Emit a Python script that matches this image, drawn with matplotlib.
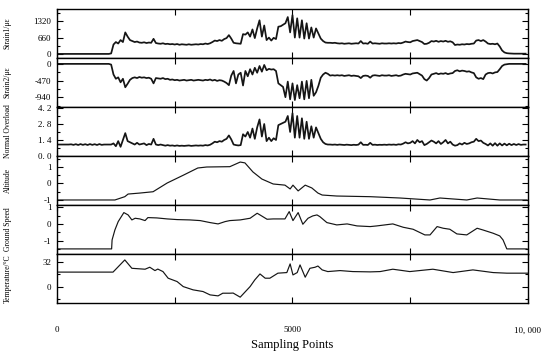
import numpy as np
import matplotlib.pyplot as plt
from matplotlib.ticker import MultipleLocator

plt.rcParams['font.family'] = ['Liberation Serif', 'DejaVu Serif']

# sampling index for the three load channels (every 50 points)
sample_idx = list(range(0, 10000, 50))

strain1 = [
    0, 0, 0, 0, 0, 0, 0, 0, 0, 0, 0, 0, 0, 0, 0, 0, 0, 0, 0, 0,
    0, 0, 0, 20, 380, 480, 420, 560, 480, 870, 700, 560, 520, 480, 500, 460, 450, 470, 440, 460,
    450, 610, 440, 420, 410, 430, 400, 410, 390, 400, 380, 400, 370, 390, 380, 370, 390, 370, 380, 390,
    380, 400, 390, 420, 400, 430, 480, 540, 520, 560, 530, 600, 640, 760, 620, 450, 430, 420, 410, 800,
    780, 870, 700, 990, 640, 1030, 1360, 700, 1150, 560, 660, 540, 650, 600, 1100, 1120, 1180, 1240, 1490, 870,
    1570, 660, 1440, 660, 1360, 620, 1240, 620, 1070, 660, 1030, 820, 620, 520, 460, 450, 450, 440, 450, 430,
    420, 430, 410, 420, 430, 410, 420, 430, 420, 520, 420, 430, 410, 500, 420, 430, 420, 410, 430, 420,
    420, 430, 420, 430, 420, 440, 430, 460, 500, 480, 470, 520, 540, 560, 520, 480, 400, 410, 450, 520,
    500, 530, 490, 520, 500, 530, 490, 510, 470, 360, 380, 370, 390, 380, 400, 390, 410, 420, 540, 560,
    520, 560, 500, 420, 400, 410, 390, 420, 300, 140, 60, 30, 20, 15, 10, 10, 10, 10, 10, 10,
]

strain2 = [
    0, 0, 0, 0, 0, 0, 0, 0, 0, 0, 0, 0, 0, 0, 0, 0, 0, 0, 0, 0,
    0, 0, 0, -20, -300, -420, -380, -520, -420, -660, -560, -450, -400, -380, -400, -370, -390, -380, -400, -390,
    -420, -550, -400, -410, -420, -400, -430, -420, -450, -440, -460, -450, -470, -460, -450, -470, -460, -450, -470, -460,
    -450, -460, -470, -450, -460, -440, -470, -450, -480, -460, -470, -500, -540, -600, -330, -200, -550, -300, -250, -610,
    -200, -350, -150, -300, -110, -250, -60, -220, -30, -180, -140, -160, -150, -200, -550, -600, -650, -940, -500, -1000,
    -550, -1020, -600, -970, -500, -1000, -480, -970, -450, -900, -800, -620, -390, -300, -250, -280, -330, -320, -330, -320,
    -330, -320, -340, -330, -320, -340, -330, -340, -350, -400, -340, -330, -340, -390, -330, -320, -330, -340, -320, -330,
    -330, -320, -340, -330, -320, -340, -330, -300, -280, -290, -300, -270, -260, -250, -290, -330, -430, -470, -400, -300,
    -280, -260, -290, -270, -280, -260, -290, -270, -260, -200, -180, -210, -190, -200, -220, -210, -240, -260, -380, -420,
    -400, -430, -300, -260, -250, -270, -240, -230, -150, -60, -20, -10, 0, 0, 0, 0, 0, 0, 0, 0,
]

overload = [
    1.0, 1.0, 1.0, 1.0, 1.0, 1.0, 1.02, 0.97, 1.03, 0.96, 1.04, 0.97, 1.03, 0.96, 1.04, 0.97, 1.03, 0.96, 1.04, 0.97,
    1.0, 1.0, 1.0, 1.0, 1.1, 0.85, 1.3, 0.8, 1.4, 2.0, 1.3, 1.2, 1.1, 1.0, 1.15, 1.0, 1.05, 1.1, 0.95, 1.05,
    1.0, 1.5, 1.0, 0.95, 1.0, 0.95, 0.9, 0.95, 0.9, 0.92, 0.88, 0.92, 0.88, 0.9, 0.88, 0.9, 0.92, 0.88, 0.9, 0.92,
    0.9, 0.92, 0.9, 0.95, 0.92, 0.98, 1.1, 1.25, 1.2, 1.3, 1.25, 1.4, 1.5, 1.8, 1.45, 1.0, 0.95, 0.92, 0.95, 1.9,
    1.7, 2.1, 1.6, 2.4, 1.5, 2.5, 3.2, 1.7, 2.8, 1.3, 1.6, 1.3, 1.55, 1.4, 2.7, 2.8, 2.9, 3.0, 3.5, 2.1,
    3.75, 1.6, 3.5, 1.6, 3.3, 1.5, 3.0, 1.5, 2.6, 1.6, 2.5, 2.0, 1.5, 1.2, 1.05, 1.0, 1.0, 0.98, 1.0, 0.97,
    1.0, 0.98, 0.96, 0.99, 0.97, 0.95, 0.98, 0.96, 0.99, 1.2, 0.97, 0.98, 0.96, 1.15, 0.97, 0.99, 0.96, 0.98, 0.97, 0.99,
    0.97, 1.0, 0.98, 1.0, 0.97, 1.02, 1.0, 1.08, 1.2, 1.1, 1.15, 1.3, 1.1, 1.4, 1.2, 1.3, 0.95, 1.05, 1.2, 1.35,
    1.25, 1.1, 1.3, 1.05, 1.2, 1.4, 1.1, 1.25, 1.0, 0.9, 0.95, 1.1, 1.0, 1.15, 1.05, 1.1, 1.2, 1.25, 1.5, 1.3,
    1.35, 1.15, 1.05, 0.92, 1.1, 0.9, 1.12, 0.9, 1.1, 0.92, 1.08, 0.93, 1.07, 0.95, 1.05, 0.96, 1.04, 0.97, 1.0, 1.0,
]

alt_x = [0, 1230, 1440, 1510, 1760, 1970, 2040, 2340, 2680, 2990, 3180, 3670, 3890, 3990, 4160,
         4350, 4590, 4840, 4950, 5010, 5120, 5270, 5410, 5540, 5630, 5940, 6650, 7280, 7920,
         8130, 8700, 8920, 9400, 9980]
altitude = [-1.0, -1.0, -0.8, -0.64, -0.58, -0.52, -0.5, 0.03, 0.5, 0.94, 1.0, 1.02, 1.3, 1.25, 0.7,
            0.27, -0.03, -0.1, -0.33, -0.1, -0.45, -0.1, -0.27, -0.58, -0.7, -0.76, -0.8, -0.88, -1.0,
            -0.88, -1.0, -0.88, -1.0, -1.0]

gs_x = [0, 1160, 1170, 1230, 1300, 1420, 1510, 1590, 1660, 1760, 1870, 1930, 2120, 2340, 2550,
        2820, 3040, 3250, 3420, 3570, 3670, 3890, 4100, 4250, 4310, 4460, 4590, 4840, 4930, 5010,
        5120, 5220, 5330, 5430, 5520, 5580, 5730, 5940, 6160, 6370, 6650, 6790, 7130, 7350, 7560,
        7810, 7920, 8070, 8200, 8340, 8490, 8700, 8920, 9040, 9260, 9400, 9470, 9550, 9980]
ground_speed = [-1.5, -1.5, -0.96, -0.36, 0.14, 0.68, 0.54, 0.24, 0.34, 0.3, 0.2, 0.38, 0.36, 0.3, 0.26,
                0.24, 0.2, 0.08, 0.0, 0.14, 0.2, 0.24, 0.34, 0.64, 0.54, 0.28, 0.3, 0.3, 0.74, 0.2,
                0.68, -0.02, 0.34, 0.48, 0.54, 0.44, 0.08, -0.06, 0.0, -0.12, -0.16, -0.12, 0.0, -0.2, -0.32,
                -0.66, -0.66, -0.16, -0.26, -0.32, -0.6, -0.66, -0.26, -0.36, -0.56, -0.72, -0.96, -1.5, -1.5]

temp_x = [0, 1190, 1440, 1590, 1870, 1970, 2080, 2140, 2250, 2360, 2550, 2680, 2890, 3100, 3250,
          3420, 3520, 3670, 3740, 3890, 4100, 4200, 4310, 4420, 4520, 4690, 4880, 4950, 5010, 5100,
          5160, 5270, 5370, 5480, 5540, 5630, 5750, 6010, 6280, 6650, 6860, 7130, 7490, 7980, 8410,
          8830, 9260, 9550, 10000]
temperature = [19, 19, 35, 24, 22.8, 25.4, 21, 23, 19.7, 11, 6.6, 0, -4.3, -6.5, -10.9,
               -12.2, -8.7, -8.7, -8.5, -13.9, 0, 8.8, 16.6, 11, 11, 17.6, 18.4, 29.8, 15.3, 18.4,
               28.5, 12.3, 24, 25.4, 27, 21.9, 19.7, 21, 19.7, 19.3, 19.7, 22.8, 19.7, 22.8, 18.4,
               21.9, 18.4, 17.6, 17.6]

panels = [
    ("Strain1/\u03bc\u03b5", sample_idx, strain1, (-165, 1815), [0, 660, 1320], ["0", "660", "1320"], 330, 1.25),
    ("Strain2/\u03bc\u03b5", sample_idx, strain2, (-1216, 166), [-940, -470, 0], ["-940", "-470", "0"], 235, 1.25),
    ("Normal Overload", sample_idx, overload, (0, 4.29), [0, 1.4, 2.8, 4.2], ["0. 0", "1. 4", "2. 8", "4. 2"], 0.7, 1.25),
    ("Altitude", alt_x, altitude, (-1.3, 1.67), [-1, 0, 1], ["-1", "0", "1"], 0.5, 0.85),
    ("Ground Speed", gs_x, ground_speed, (-1.8, 1.14), [-1, 0, 1], ["-1", "0", "1"], 0.5, 0.85),
    ("Temperature/\u00b0C", temp_x, temperature, (-21.4, 42.9), [0, 32], ["0", "32"], 16, 0.85),
]

fig, axes = plt.subplots(6, 1, sharex=True, figsize=(5.5, 3.61), dpi=100,
                         gridspec_kw=dict(hspace=0))
fig.subplots_adjust(left=0.1036, right=0.96, top=0.975, bottom=0.161)

for ax, (label, xs, ys, lim, ticks, ticklabels, minor, lw) in zip(axes, panels):
    ax.plot(xs, ys, color="#151515", lw=lw)
    ax.set_ylim(*lim)
    ax.set_yticks(ticks)
    ax.set_yticklabels(ticklabels)
    ax.yaxis.set_minor_locator(MultipleLocator(minor))
    ax.set_ylabel(label, fontsize=5.5)
    ax.yaxis.set_label_coords(-0.096, 0.5)
    ax.tick_params(which="both", direction="in", left=True, right=True, top=True, bottom=True,
                   labelsize=6.5, width=0.8, pad=4)
    ax.tick_params(which="major", length=4)
    ax.tick_params(which="minor", length=2.5)
    ax.tick_params(axis="x", which="minor", bottom=False, top=False)
    for s in ax.spines.values():
        s.set_linewidth(1.0)

axes[-1].set_xlim(0, 10000)
axes[-1].set_xticks([0, 2500, 5000, 7500, 10000])
axes[-1].set_xticklabels(["0", "", "5000", "", "10, 000"])
axes[-1].tick_params(axis="x", pad=17, labelsize=6.5)
axes[-1].set_xlabel("Sampling Points", fontsize=9, labelpad=3)

fig.savefig("out.png", dpi=100)
